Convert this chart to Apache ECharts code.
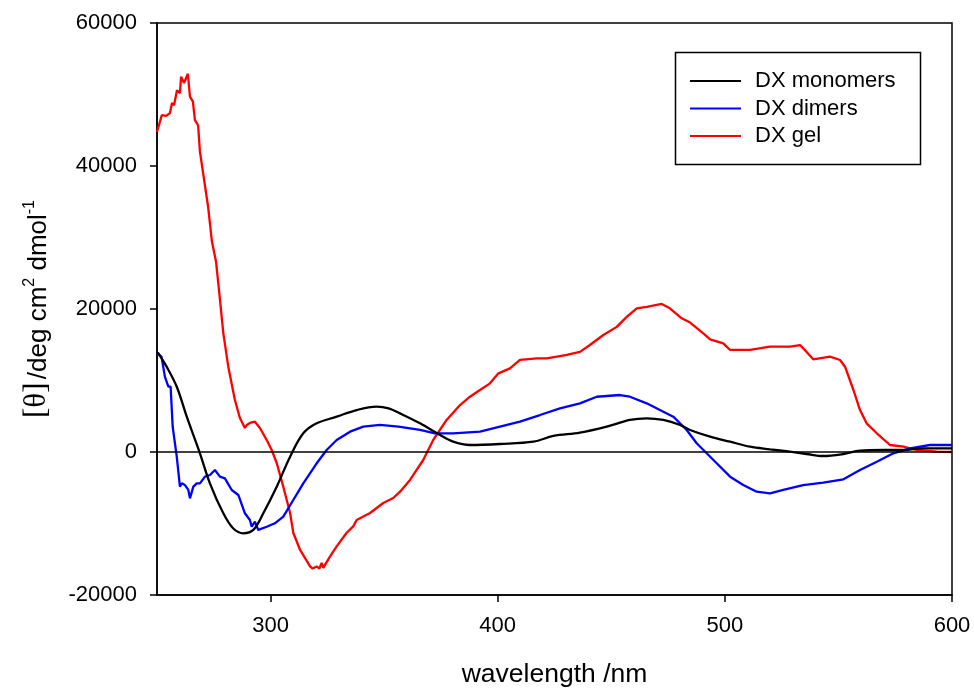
<!DOCTYPE html>
<html>
<head>
<meta charset="utf-8">
<script src="https://cdn.jsdelivr.net/npm/echarts@6/dist/echarts.min.js"></script>
<style>html,body{margin:0;padding:0;background:#fff}#c{width:974px;height:689px}</style>
</head>
<body>
<div id="c"></div>
<script>
// ---- data ----
const xTicks = [300, 400, 500, 600];
const yTicks = [-20000, 0, 20000, 40000, 60000];

const monoNm = [250,250.6,254.3,258.7,263.1,268.9,273.3,279.2,283.6,288,292.4,296.8,302.7,308.6,314.4,320.3,329.1,337.9,346.7,352,357,365.8,374.6,380.4,387.8,401,415.7,424.5,436.2,448,458.2,465.6,472.9,480.3,484.7,493.5,502.3,511.1,519.9,528.7,536,543.3,552.2,559.5,569.8,578.6,587.4,600];
const monoVal = [13900,13800,11900,9130,4940,-180,-4380,-8570,-10700,-11370,-10900,-8570,-4850,-650,2610,4010,4940,5870,6340,6100,5400,4010,2380,1440,980,1120,1440,2240,2700,3540,4480,4710,4480,3780,3080,2140,1440,740,380,40,-280,-560,-280,180,280,280,520,520];

const dimNm = [250,250.6,252,253.5,255,256,256.9,257.5,258.7,260.1,260.9,262.3,263.8,264.5,266,267.5,268.9,271.1,273.3,275.5,277.7,279.9,282.9,285.8,288.7,290.9,291.7,293.1,294.6,298.3,301.9,305.6,310,314.4,320.3,324.7,329.1,335,340.8,348.2,356.3,365.8,372.4,380.4,392.2,401,409.8,418.6,427.4,436.2,443.6,453.8,458.2,465.6,471.4,477.3,483.2,487.6,492,496.4,502.3,508.1,514,519.9,525.7,534.5,543.3,552.2,559.5,566.9,574.2,581.5,590.3,600];
const dimVal = [13900,13800,13300,10500,9130,9130,3540,3540,-650,-4850,-4380,-4620,-5310,-6480,-4850,-4380,-4380,-3450,-3220,-2520,-3450,-3680,-5310,-6010,-8570,-9510,-10450,-9750,-10900,-10450,-9970,-9050,-6710,-4380,-1580,280,1680,2840,3540,3780,3540,3080,2610,2610,2840,3540,4240,5170,6110,6810,7730,7970,7730,6810,5870,4940,3080,1220,-180,-1580,-3450,-4620,-5550,-5780,-5310,-4620,-4290,-3820,-2520,-1360,-180,520,980,980];

const gelNm = [250,252.1,254,255.7,256.6,257.5,258.8,260.1,260.6,261.9,263.6,264.5,265.8,266.7,268.1,268.9,272.5,274.2,276,277.5,279.2,281.4,284.3,286.5,288.7,289.5,290.9,293.1,295.3,298.3,300.5,302.7,305.6,308.6,310,313,317.4,318.5,320.3,321.5,322.5,323.2,326.2,329.1,333.5,336.4,337.9,343.8,349.6,354,357,361.4,367.2,371.6,377.5,383.4,387.8,392.2,396.6,400.3,405.4,409.8,417.2,421.6,430.4,436.2,440.6,446.5,452.4,456.8,461.2,465.6,472.2,475.8,481,484.7,490.5,493.5,499.3,502.3,511.1,519.9,528.7,533.1,536,538.9,546.3,550.7,552.9,556.6,559.5,562.4,566.9,572.7,578.6,584.5,593.3,600];
const gelVal = [44750,47100,47000,47400,48800,48500,50600,50200,52500,51600,52900,49700,49000,46400,45700,42000,34300,29400,26600,22000,16600,11900,7270,4750,3360,3780,4060,4240,3360,1680,280,-1540,-4850,-8530,-11300,-13700,-16000,-16300,-16000,-16300,-15500,-16200,-14600,-13200,-11300,-10400,-9500,-8530,-7130,-6430,-5550,-3900,-1120,1680,4480,6570,7730,8670,9600,11000,11700,12870,13100,13100,13570,14000,14960,16360,17500,18900,20100,20300,20700,20100,18700,18100,16600,15760,15200,14270,14270,14730,14730,14960,14000,12960,13330,12870,11930,8670,5870,4010,2620,980,740,280,40,0];

const seriesNames = ['DX monomers', 'DX dimers', 'DX gel'];

function zip(a, b) { return a.map((v, i) => [v, b[i]]); }

const FONT = '"Liberation Sans", Arial, sans-serif';
const chart = echarts.init(document.getElementById('c'), null, { renderer: 'canvas' });

chart.setOption({
  animation: false,
  backgroundColor: '#fff',
  grid: { left: 157, right: 22, top: 23, bottom: 94, show: true, borderColor: '#000', borderWidth: 1.5, backgroundColor: 'transparent', containLabel: false, outerBoundsMode: 'none' },
  xAxis: {
    type: 'value', min: 250, max: 600, interval: 50,
    name: 'wavelength /nm', nameLocation: 'middle', nameGap: 66,
    nameTextStyle: { fontFamily: FONT, fontSize: 26.5, color: '#000' },
    axisLine: { show: true, onZero: false, lineStyle: { color: '#000', width: 1.5 } },
    axisTick: { show: true, inside: false, length: 7, customValues: xTicks, lineStyle: { color: '#000', width: 1.5 } },
    axisLabel: { customValues: xTicks, fontFamily: FONT, fontSize: 22, color: '#000', margin: 20, formatter: v => String(v) },
    splitLine: { show: false }
  },
  yAxis: {
    type: 'value', min: -20000, max: 60000, interval: 20000,
    name: '{b|[θ]} {n|/deg cm}{s|2}{n| dmol}{s|-1}',
    nameLocation: 'middle', nameRotate: 90, nameGap: 105,
    nameTextStyle: {
      color: '#000',
      rich: {
        b: { fontFamily: '"Liberation Serif", "Times New Roman", serif', fontSize: 31, color: '#000', verticalAlign: 'bottom', lineHeight: 34 },
        n: { fontFamily: FONT, fontSize: 26, color: '#000', verticalAlign: 'bottom', lineHeight: 34 },
        s: { fontFamily: FONT, fontSize: 16, color: '#000', verticalAlign: 'bottom', lineHeight: 34, padding: [0, 0, 14, 0] }
      }
    },
    axisLine: { show: true, onZero: false, lineStyle: { color: '#000', width: 1.5 } },
    axisTick: { show: true, inside: false, length: 7, lineStyle: { color: '#000', width: 1.5 } },
    axisLabel: { fontFamily: FONT, fontSize: 22, color: '#000', margin: 20, formatter: v => String(v) },
    splitLine: { show: false }
  },
  legend: {
    orient: 'vertical', left: 690, top: 70, padding: 0,
    itemWidth: 51, itemHeight: 2, itemGap: 5.5, icon: 'rect',
    textStyle: { fontFamily: FONT, fontSize: 22, color: '#000', padding: [0, 0, 0, 9] },
    data: seriesNames
  },
  graphic: [{
    type: 'rect', silent: true, z: 100,
    shape: { x: 675.5, y: 52.5, width: 245, height: 112 },
    style: { fill: 'none', stroke: '#000', lineWidth: 1.5 }
  }],
  series: [
    {
      name: seriesNames[0], type: 'line', data: zip(monoNm, monoVal), showSymbol: false, symbol: 'none', smooth: 0.35,
      lineStyle: { color: '#000', width: 2.3 }, itemStyle: { color: '#000' }, z: 3,
      markLine: { silent: true, symbol: ['none', 'none'], label: { show: false },
        lineStyle: { color: '#000', width: 1.5, type: 'solid' }, data: [{ yAxis: 0 }] }
    },
    {
      name: seriesNames[1], type: 'line', data: zip(dimNm, dimVal), showSymbol: false, symbol: 'none',
      lineStyle: { color: '#0000ff', width: 2.3 }, itemStyle: { color: '#0000ff' }, z: 2
    },
    {
      name: seriesNames[2], type: 'line', data: zip(gelNm, gelVal), showSymbol: false, symbol: 'none',
      lineStyle: { color: '#ff0000', width: 2.3 }, itemStyle: { color: '#ff0000' }, z: 1
    }
  ]
});
</script>
</body>
</html>
